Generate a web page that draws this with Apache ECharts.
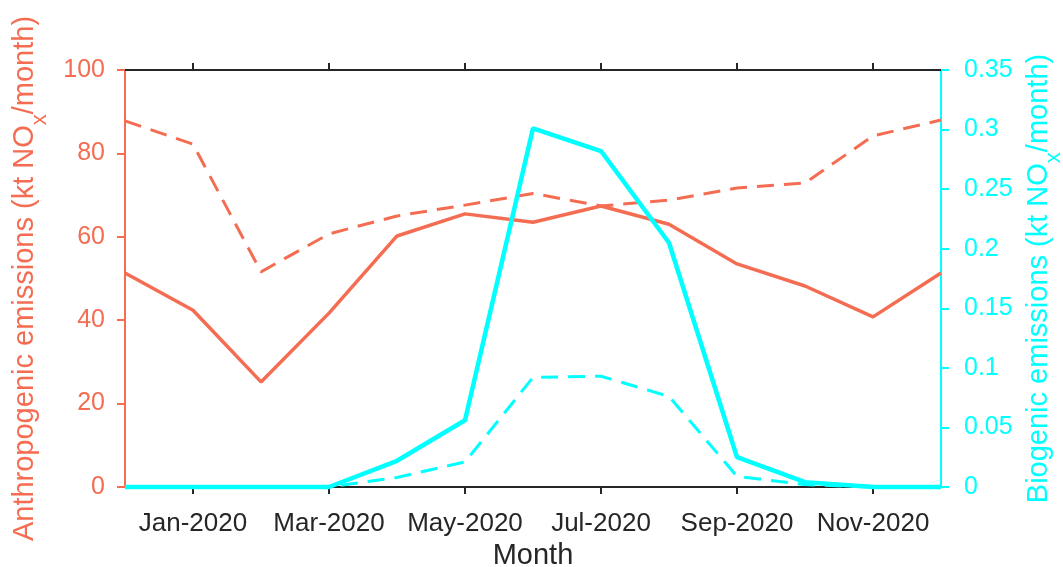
<!DOCTYPE html>
<html>
<head>
<meta charset="utf-8">
<script src="https://cdn.jsdelivr.net/npm/echarts@6/dist/echarts.min.js"></script>
<style>html,body{margin:0;padding:0;background:#fff;overflow:hidden;}#c{width:1063px;height:567px;}</style>
</head>
<body>
<div id="c"></div>
<script>
const months = ['Dec-2019','Jan-2020','Feb-2020','Mar-2020','Apr-2020','May-2020','Jun-2020','Jul-2020','Aug-2020','Sep-2020','Oct-2020','Nov-2020','Dec-2020'];
const anthroSolid = [51.3, 42.4, 25.2, 41.7, 60.2, 65.5, 63.5, 67.4, 63.0, 53.5, 48.2, 40.8, 51.3];
const anthroDashed = [87.8, 82.2, 51.6, 60.7, 65.0, 67.6, 70.4, 67.4, 68.8, 71.7, 72.9, 84.2, 88.0];
const bioSolid = [0, 0, 0, 0, 0.022, 0.056, 0.301, 0.282, 0.205, 0.025, 0.004, 0, 0];
const bioDashed = [0, 0, 0, 0, 0.008, 0.021, 0.092, 0.093, 0.076, 0.009, 0.002, 0, 0];

const RED = '#F46D52';
const CYAN = '#00FFFF';
const DARK = '#262626';
const FONT = 'Liberation Sans, Arial, sans-serif';

const chart = echarts.init(document.getElementById('c'), null, {width: 1063, height: 567});
const showOdd = (i) => i % 2 === 1;
chart.setOption({
  animation: false,
  backgroundColor: '#fff',
  grid: {left: 125, right: 122, top: 70, bottom: 80, containLabel: false, outerBoundsMode: 'none'},
  xAxis: [{
    type: 'category', data: months, boundaryGap: false, position: 'bottom',
    name: 'Month', nameLocation: 'middle', nameGap: 51,
    nameTextStyle: {color: DARK, fontSize: 29, fontFamily: FONT},
    axisLine: {onZero: false, lineStyle: {color: DARK, width: 2}},
    axisTick: {interval: showOdd, length: 7, lineStyle: {color: DARK, width: 2}},
    axisLabel: {interval: showOdd, color: DARK, fontSize: 26, fontFamily: FONT, margin: 24},
    splitLine: {show: false}
  }, {
    type: 'category', data: months, boundaryGap: false, position: 'top',
    axisLine: {onZero: false, lineStyle: {color: DARK, width: 2}},
    axisTick: {interval: showOdd, length: 7, lineStyle: {color: DARK, width: 2}},
    axisLabel: {show: false},
    splitLine: {show: false}
  }],
  yAxis: [{
    type: 'value', min: 0, max: 100, interval: 20, position: 'left',
    name: '{a|Anthropogenic emissions (kt NO}{s|x}{a|/month)}',
    nameLocation: 'middle', nameGap: 86, nameRotate: 90,
    nameTextStyle: {color: RED, rich: {
      a: {color: RED, fontSize: 29, fontFamily: FONT, lineHeight: 36, verticalAlign: 'bottom'},
      s: {color: RED, fontSize: 22, fontFamily: FONT, lineHeight: 36, verticalAlign: 'bottom', padding: [0,0,-12,0]}
    }},
    axisLine: {show: true, onZero: false, lineStyle: {color: RED, width: 2}},
    axisTick: {show: true, length: 8, lineStyle: {color: RED, width: 2}},
    axisLabel: {color: RED, fontSize: 25, fontFamily: FONT, margin: 20},
    splitLine: {show: false}
  }, {
    type: 'value', min: 0, max: 0.35, interval: 0.05, position: 'right',
    name: '{a|Biogenic emissions (kt NO}{s|x}{a|/month)}',
    nameLocation: 'middle', nameGap: 76, nameRotate: 90,
    nameTextStyle: {color: CYAN, rich: {
      a: {color: CYAN, fontSize: 29, fontFamily: FONT, lineHeight: 36, verticalAlign: 'bottom'},
      s: {color: CYAN, fontSize: 22, fontFamily: FONT, lineHeight: 36, verticalAlign: 'bottom', padding: [0,0,-12,0]}
    }},
    axisLine: {show: true, onZero: false, lineStyle: {color: CYAN, width: 2}},
    axisTick: {show: true, length: 8, lineStyle: {color: CYAN, width: 2}},
    axisLabel: {color: CYAN, fontSize: 25, fontFamily: FONT, margin: 23},
    splitLine: {show: false}
  }],
  series: [
    {type: 'line', xAxisIndex: 0, yAxisIndex: 0, data: anthroDashed, showSymbol: false, clip: false,
     lineStyle: {color: RED, width: 3, type: [17, 10]}},
    {type: 'line', xAxisIndex: 0, yAxisIndex: 0, data: anthroSolid, showSymbol: false, clip: false,
     lineStyle: {color: RED, width: 3.5}},
    {type: 'line', xAxisIndex: 0, yAxisIndex: 1, data: bioDashed, showSymbol: false, clip: false,
     lineStyle: {color: CYAN, width: 3, type: [17, 10]}},
    {type: 'line', xAxisIndex: 0, yAxisIndex: 1, data: bioSolid, showSymbol: false, clip: false,
     lineStyle: {color: CYAN, width: 4.5}}
  ]
});
</script>
</body>
</html>
